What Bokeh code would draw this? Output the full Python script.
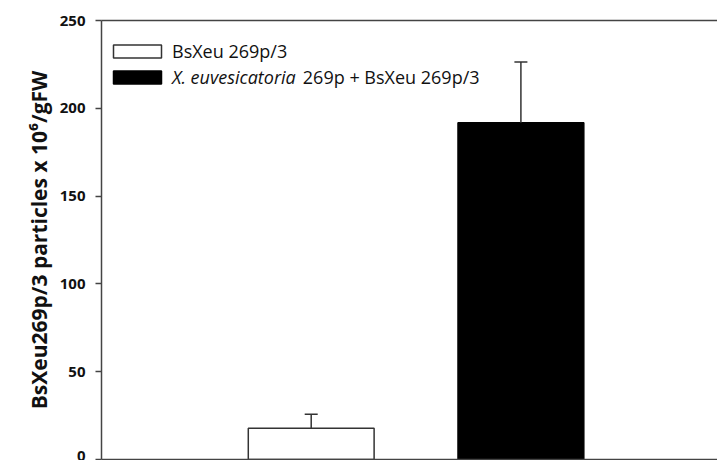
from bokeh.plotting import figure
from bokeh.models import (ColumnDataSource, Whisker, FixedTicker, LinearAxis, Legend,
                          LegendItem, Label, Range1d, TeeHead)
from bokeh.embed import file_html
from bokeh.resources import INLINE

# ---- data ----
groups = ["BsXeu 269p/3", "X. euvesicatoria 269p + BsXeu 269p/3"]
positions = [1, 2]
means = [17.8, 191.8]
errors = [8.0, 34.5]
fills = ["white", "black"]
outlines = ["#333333", "black"]
y_ticks = [0, 50, 100, 150, 200, 250]
y_title = "BsXeu269p/3 particles x 10\u2076/gFW"

upper = [m + e for m, e in zip(means, errors)]
src = ColumnDataSource(dict(x=positions, top=means, upper=upper, fill=fills, line=outlines))

FONT = "Open Sans"
AX = "#444444"

p = figure(width=717, height=460, output_backend="svg", toolbar_location=None,
           x_range=Range1d(0, 2.9375), y_range=Range1d(0, 250),
           min_border_left=101, min_border_top=20, min_border_bottom=1, min_border_right=0)
p.outline_line_color = None
p.grid.visible = False
p.background_fill_color = "white"
p.border_fill_color = "white"

# bars
r = p.vbar(x="x", top="top", width=0.6, source=src, fill_color="fill",
           line_color="line", line_width=1.5)

# error bars (upper only)
w = Whisker(base="x", lower="top", upper="upper", source=src,
            upper_head=TeeHead(size=13, line_color="#333333", line_width=1.5),
            lower_head=None, line_color="#333333", line_width=1.5, level="glyph")
p.add_layout(w)

# y axis
ya = p.yaxis[0]
ya.ticker = FixedTicker(ticks=y_ticks)
ya.minor_tick_line_color = None
ya.major_tick_in = 0
ya.major_tick_out = 6
ya.major_tick_line_color = AX
ya.major_tick_line_width = 1.5
ya.axis_line_color = AX
ya.axis_line_width = 1.5
ya.major_label_text_font = FONT
ya.major_label_text_font_style = "bold"
ya.major_label_text_font_size = "15px"
ya.major_label_text_color = "#111111"
ya.major_label_standoff = 10
ya.axis_label = y_title
ya.axis_label_text_font = FONT
ya.axis_label_text_font_style = "bold"
ya.axis_label_text_font_size = "21px"
ya.axis_label_text_color = "#111111"
ya.axis_label_standoff = 4

def style_plain_axis(ax):
    ax.ticker = FixedTicker(ticks=[])
    ax.major_tick_in = 0
    ax.major_tick_out = 0
    ax.minor_tick_line_color = None
    ax.major_label_text_font_size = "0px"
    ax.major_label_standoff = 0
    ax.axis_line_color = AX
    ax.axis_line_width = 1.5

style_plain_axis(p.xaxis[0])
top_ax = LinearAxis()
style_plain_axis(top_ax)
p.add_layout(top_ax, "above")

# legend
common = dict(glyph_width=60, glyph_height=16, label_standoff=5, padding=0, margin=0,
              border_line_color=None, background_fill_alpha=0,
              label_text_font=FONT, label_text_font_size="18px", label_text_color="#111111")
leg1 = Legend(items=[LegendItem(label=groups[0], renderers=[r], index=0)],
              location=(6, 396), **common)
leg2 = Legend(items=[LegendItem(label=groups[1].split(" 269p")[0], renderers=[r], index=1)],
              location=(6, 370), label_text_font_style="italic", **common)
p.add_layout(leg1)
p.add_layout(leg2)

rest = groups[1][len("X. euvesicatoria "):]
p.add_layout(Label(x=0.96, y=217.6, text=rest, text_font=FONT, text_font_size="18px",
                   text_color="#111111", text_baseline="middle"))

open("out.html", "w").write(file_html(p, INLINE))
